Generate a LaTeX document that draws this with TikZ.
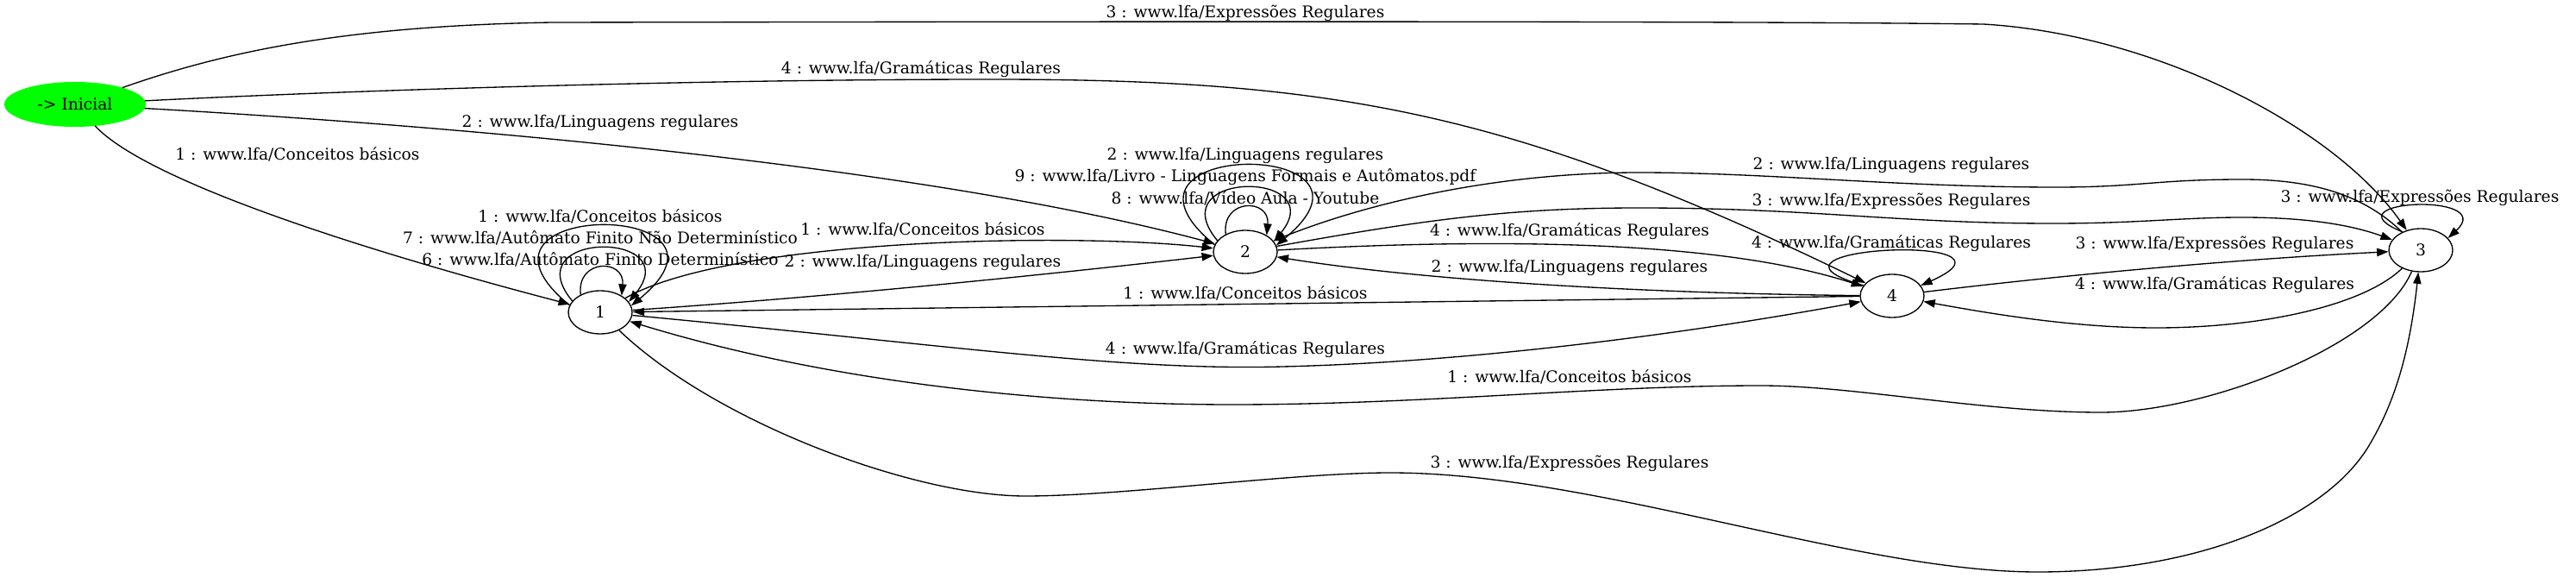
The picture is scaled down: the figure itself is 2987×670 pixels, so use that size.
\documentclass[tikz,border=0pt]{standalone}
\usepackage{fontspec}
\setmainfont{DejaVu Serif}
\usetikzlibrary{arrows.meta,shapes.geometric}
\definecolor{inigreen}{RGB}{0,255,0}
\begin{document}
\begin{tikzpicture}[x=0.75pt,y=-0.75pt,
  st/.style={ellipse,draw,line width=1pt,minimum width=55.5pt,minimum height=37.5pt,inner sep=0pt,font=\fontsize{14}{17}\selectfont},
  lab/.style={inner sep=0pt,font=\fontsize{14}{17}\selectfont},
  arr/.style={line width=1pt,-{Triangle[length=10pt,width=7pt]}}]
\useasboundingbox (0,0) rectangle (2987,670);

% states
\node[st,fill=inigreen,draw=inigreen,minimum width=122pt,minimum height=38pt] (ini) at (87,121) {-> Inicial};
\node[st] (n1) at (696,362) {1};
\node[st] (n2) at (1444,292) {2};
\node[st] (n4) at (2194,343) {4};
\node[st] (n3) at (2807,290) {3};

% edges from Inicial
\draw[arr] (ini) .. controls (260,60) and (400,30) .. (640,26) .. controls (1200,25) and (2000,24) .. (2300,28) .. controls (2500,40) and (2706,147) .. (n3);
\draw[arr] (ini) .. controls (400,105) and (800,92) .. (1150,92) .. controls (1550,92) and (1755,130) .. (n4);
\draw[arr] (ini) .. controls (600,150) and (1100,200) .. (n2);
\draw[arr] (ini) .. controls (170,210) and (420,290) .. (n1);

% self loops
\draw[arr] (n1.138) .. controls +(-5,-42) and +(4,-43) .. (n1.38);
\draw[arr] (n1.158) .. controls +(-68,-82) and +(67,-83) .. (n1.20);
\draw[arr] (n1.167) .. controls +(-150,-123) and +(150,-124) .. (n1.12);
\draw[arr] (n2.138) .. controls +(-5,-42) and +(4,-43) .. (n2.38);
\draw[arr] (n2.158) .. controls +(-68,-82) and +(67,-83) .. (n2.20);
\draw[arr] (n2.167) .. controls +(-150,-123) and +(150,-124) .. (n2.12);
\draw[arr] (n3.135) .. controls +(-92,-37) and +(59,-54) .. (n3.24);
\draw[arr] (n4.160) .. controls +(-157,-45) and +(140,-62) .. (n4.20);

% edges between states
\draw[arr] (n1) .. controls (850,275) and (1250,270) .. (n2);
\draw[arr] (n1) .. controls (950,345) and (1200,320) .. (n2);
\draw[arr] (n4) -- (n1);
\draw[arr] (n1) .. controls (1100,400) and (1300,430) .. (1487,425) .. controls (1700,420) and (1950,388) .. (n4);
\draw[arr] (n3) .. controls (2760,400) and (2560,478) .. (2436,478) .. controls (2300,478) and (2150,447) .. (2042,447) .. controls (1850,447) and (1650,469) .. (1429,469) .. controls (1200,469) and (950,440) .. (n1);
\draw[arr] (n1) .. controls (830,490) and (1060,575) .. (1189,575) .. controls (1300,575) and (1500,548) .. (1612,548) .. controls (1850,548) and (2150,663) .. (2363,663) .. controls (2550,663) and (2700,600) .. (2749,513) .. controls (2780,460) and (2795,400) .. (n3);
\draw[arr] (n2) .. controls (1750,275) and (2000,280) .. (n4);
\draw[arr] (n4) .. controls (1900,340) and (1650,325) .. (n2);
\draw[arr] (n2) .. controls (1650,255) and (1750,241) .. (1900,241) .. controls (2100,241) and (2200,259) .. (2380,259) .. controls (2480,259) and (2530,252) .. (2600,252) .. controls (2680,252) and (2730,262) .. (n3);
\draw[arr] (n3) .. controls (2740,225) and (2680,208) .. (2600,208) .. controls (2500,208) and (2480,217) .. (2385,217) .. controls (2200,217) and (2050,200) .. (1900,200) .. controls (1750,200) and (1600,230) .. (n2);
\draw[arr] (n4) .. controls (2400,318) and (2600,300) .. (n3);
\draw[arr] (n3) .. controls (2740,355) and (2620,380) .. (2500,380) .. controls (2400,380) and (2300,362) .. (n4);

% labels
\node[lab] (la) at (1444,15) {3 : www.lfa/Expressões Regulares};
\node[lab] (lb) at (1068,80) {4 : www.lfa/Gramáticas Regulares};
\node[lab] (lc) at (696,142) {2 : www.lfa/Linguagens regulares};
\node[lab] (ld) at (345,179) {1 : www.lfa/Conceitos básicos};
\node[lab] (le) at (696,251) {1 : www.lfa/Conceitos básicos};
\node[lab] (lf) at (696,276) {7 : www.lfa/Autômato Finito Não Determinístico};
\node[lab] (lg) at (696,301) {6 : www.lfa/Autômato Finito Determinístico};
\node[lab] (lh) at (1070,266) {1 : www.lfa/Conceitos básicos};
\node[lab] (li) at (1070,304) {2 : www.lfa/Linguagens regulares};
\node[lab] (lj) at (1444,340) {1 : www.lfa/Conceitos básicos};
\node[lab] (lk) at (1444,405) {4 : www.lfa/Gramáticas Regulares};
\node[lab] (ll) at (1820,437) {1 : www.lfa/Conceitos básicos};
\node[lab] (lm) at (1820,537) {3 : www.lfa/Expressões Regulares};
\node[lab] (ln) at (1444,180) {2 : www.lfa/Linguagens regulares};
\node[lab] (lo) at (1444,205) {9 : www.lfa/Livro - Linguagens Formais e Autômatos.pdf};
\node[lab] (lp) at (1444,230) {8 : www.lfa/Vídeo Aula - Youtube};
\node[lab] (lq) at (1820,268) {4 : www.lfa/Gramáticas Regulares};
\node[lab] (lr) at (1820,310) {2 : www.lfa/Linguagens regulares};
\node[lab] (ls) at (2193,233) {3 : www.lfa/Expressões Regulares};
\node[lab] (lt) at (2193,191) {2 : www.lfa/Linguagens regulares};
\node[lab] (lu) at (2193,282) {4 : www.lfa/Gramáticas Regulares};
\node[lab] (lv) at (2568,283) {3 : www.lfa/Expressões Regulares};
\node[lab] (lw) at (2568,330) {4 : www.lfa/Gramáticas Regulares};
\node[lab] (lx) at (2806,229) {3 : www.lfa/Expressões Regulares};
\end{tikzpicture}
\end{document}
